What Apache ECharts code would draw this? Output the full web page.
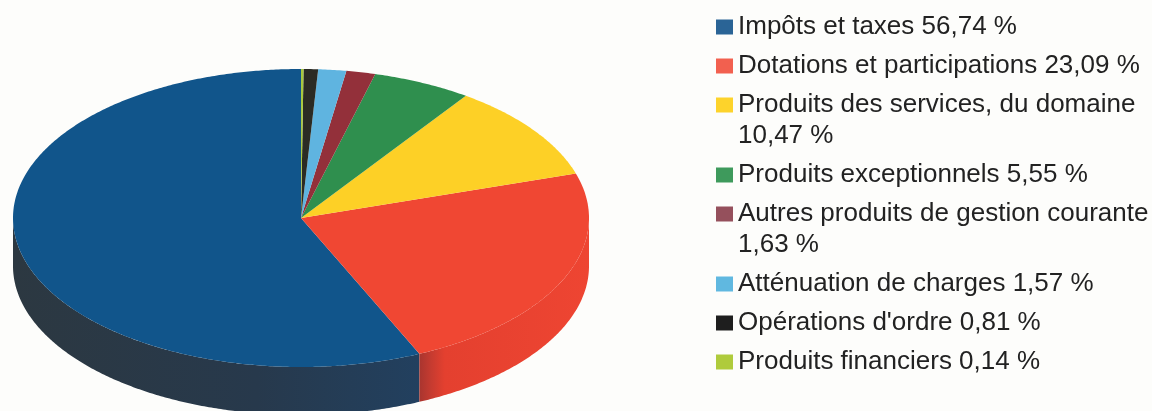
<!DOCTYPE html>
<html>
<head>
<meta charset="utf-8">
<style>
  html, body { margin: 0; padding: 0; background: #fdfdfb; }
  #chart { width: 1152px; height: 411px; }
</style>
<script src="https://cdn.jsdelivr.net/npm/echarts@6/dist/echarts.min.js"></script>
</head>
<body>
<div id="chart"></div>
<script>
const categories = [
  'Impôts et taxes', 'Dotations et participations', 'Produits des services, du domaine',
  'Produits exceptionnels', 'Autres produits de gestion courante', 'Atténuation de charges',
  "Opérations d'ordre", 'Produits financiers'
]
const values = [56.74, 23.09, 10.47, 5.55, 1.63, 1.57, 0.81, 0.14]
const valueLabels = ['56,74 %', '23,09 %', '10,47 %', '5,55 %', '1,63 %', '1,57 %', '0,81 %', '0,14 %']
const wrapped = [false, false, true, false, true, false, false, false]
const topColors = ['#11558b', '#f04733', '#fdd026', '#2f8f4e', '#93303a', '#5fb4e0', '#2b2b24', '#a9c93f']
const legendColors = ['#2a6496', '#f2604f', '#fdd32b', '#3e9a5c', '#95505c', '#60b8e0', '#1e1e1e', '#afcb3c']
const sideStops = {
  0: [[0, '#2c3841'], [0.6, '#27394c'], [1, '#22405f']],
  1: [[0, '#a8352f'], [0.07, '#c63b30'], [0.15, '#e4402f'], [1, '#ee4532']]
}

const cx = 301
const cy = 218
const rx = 288
const ry = 149
const depth = 48
const total = values.reduce((a, b) => a + b, 0)

// slices run anticlockwise from twelve o'clock, biggest first
const ends = []
let run = 360
values.forEach(v => {
  const start = run - v / total * 360
  ends.push([start, run])
  run = start
})

function edge(t, dy) {
  const r = t * Math.PI / 180
  return [cx + rx * Math.sin(r), cy + dy - ry * Math.cos(r)]
}

function arc(a, b, dy) {
  const pts = []
  const n = Math.max(2, Math.ceil((b - a) * 2))
  for (let i = 0; i <= n; i++) pts.push(edge(a + (b - a) * i / n, dy))
  return pts
}

function renderSlice(index) {
  return function() {
    const [a, b] = ends[index]
    const children = []
    const fa = Math.max(a, 90)
    const fb = Math.min(b, 270)
    if (fb > fa) {
      const side = arc(fa, fb, 0).concat(arc(fa, fb, depth).reverse())
      const stops = sideStops[index] || [[0, topColors[index]], [1, topColors[index]]]
      children.push({
        type: 'polygon',
        shape: { points: side },
        style: {
          fill: {
            type: 'linear', x: 0, y: 0, x2: 1, y2: 0,
            colorStops: stops.map(s => ({ offset: s[0], color: s[1] }))
          }
        }
      })
    }
    children.push({
      type: 'polygon',
      shape: { points: [[cx, cy]].concat(arc(a, b, 0)) },
      style: { fill: topColors[index] }
    })
    return { type: 'group', children }
  }
}

const rowGap = 39
const lineGap = 31
const lineHeight = 31
let rowY = 27
const legends = categories.map((name, i) => {
  const y = rowY
  rowY += rowGap + (wrapped[i] ? lineGap : 0)
  return {
    data: [{ name, itemStyle: { color: legendColors[i] } }],
    left: 716,
    top: y - (wrapped[i] ? 1.5 : 0.5) * lineHeight,
    padding: 0,
    icon: 'rect',
    itemWidth: 17,
    itemHeight: 15,
    selectedMode: false,
    textStyle: { fontFamily: 'Liberation Sans', fontSize: 26, lineHeight, color: '#222' },
    // blank first line keeps the swatch level with the first line of text
    formatter: () => wrapped[i] ? '\n' + name + '\n' + valueLabels[i] : name + ' ' + valueLabels[i]
  }
})

const chart = echarts.init(document.getElementById('chart'))
chart.setOption({
  animation: false,
  backgroundColor: '#fdfdfb',
  legend: legends,
  series: categories.map((name, i) => ({
    type: 'custom',
    name,
    coordinateSystem: 'none',
    itemStyle: { color: legendColors[i] },
    silent: true,
    renderItem: renderSlice(i),
    data: [values[i]]
  }))
})
</script>
</body>
</html>
